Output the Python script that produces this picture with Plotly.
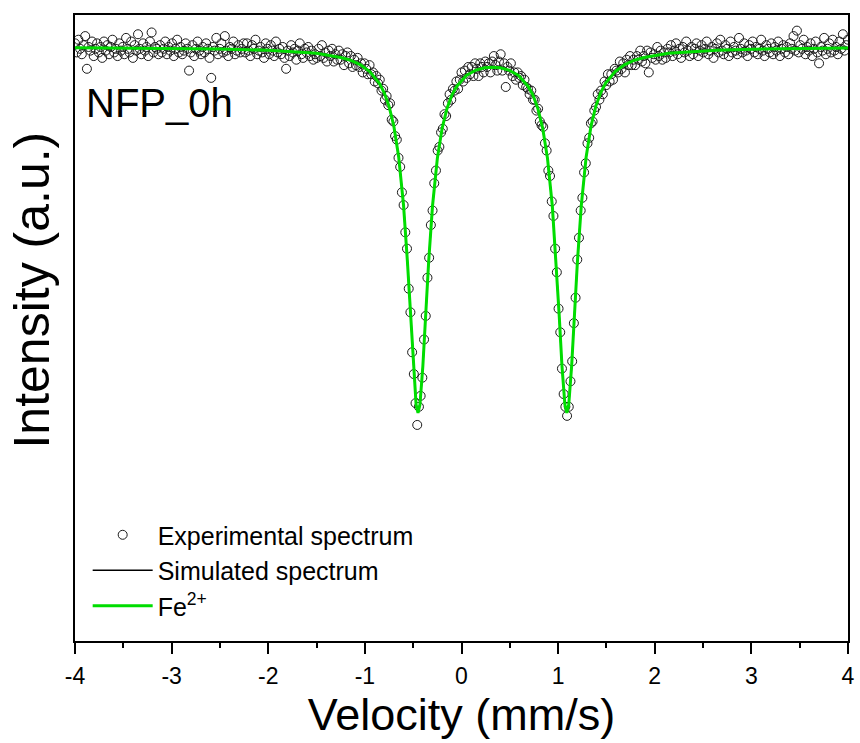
import plotly.graph_objects as go

# ---------------- data ----------------
# Experimental channels: velocity calibration (mm/s)
vel_start = -4.0
vel_step = 0.017621

# Experimental relative transmission (%), channel by channel
exp_intensity = [
    # -4.00 .. -3.14
    100.2, 99.7, 100.4, 99.9, 99.6, 100.1, 100.6, 98.8, 100.0, 99.8,
    100.3, 99.5, 99.9, 100.2, 99.7, 100.0, 99.4, 100.3, 99.8, 100.1,
    99.6, 100.0, 100.4, 99.7, 99.9, 99.5, 100.2, 99.8, 100.0, 99.6,
    100.5, 99.9, 99.7, 100.3, 99.4, 100.1, 99.8, 100.7, 99.9, 99.6,
    100.2, 99.8, 100.0, 99.5, 100.3, 100.8, 99.7, 100.0, 99.9, 99.6,
    # -3.12 .. -2.26
    100.1, 99.7, 99.9, 100.3, 99.6, 100.0, 99.8, 100.2, 99.5, 99.9,
    100.4, 99.7, 100.0, 99.6, 99.8, 100.2, 99.9, 98.7, 99.7, 100.1,
    99.5, 99.9, 100.3, 99.8, 99.6, 100.0, 99.7, 100.2, 99.9, 99.4,
    98.3, 100.0, 99.8, 100.5, 99.6, 99.9, 100.2, 99.7, 100.6, 99.8,
    99.5, 100.0, 99.9, 100.3, 99.6, 99.8, 100.1, 99.7, 99.9, 100.2,
    # -2.24 .. -1.52
    99.7, 100.2, 99.8, 99.5, 100.1, 99.9, 100.4, 99.6, 99.8, 100.0,
    99.7, 99.4, 100.2, 99.9, 99.6, 100.1, 99.8, 99.5, 100.3, 99.7,
    99.9, 99.6, 100.0, 99.4, 98.8, 99.8, 99.5, 100.1, 99.7, 99.9,
    99.3, 99.8, 100.2, 99.6, 99.4, 99.9, 99.7, 100.0, 99.5, 99.8,
    99.3, 99.6,
    # -1.50 .. -0.49 (left slope)
    99.4, 99.9, 99.5, 100.1, 99.4, 99.7, 99.2, 99.8, 99.5, 99.9,
    99.2, 99.6, 99.3, 99.8, 99.3, 99.6, 99.0, 99.5, 99.7, 99.1,
    99.5, 98.9, 99.3, 99.0, 99.4, 98.9, 99.1, 98.6, 99.1, 98.8,
    98.5, 99.0, 98.5, 98.6, 98.1, 98.4, 98.0, 98.2, 97.6, 97.7,
    97.1, 97.3, 96.8, 96.9, 96.0, 95.9, 95.1, 94.9, 93.9, 93.4,
    92.0, 91.3, 89.8, 88.9, 86.7, 85.4, 83.2, 82.0,
    # -0.48 .. 0.32 (left line and hump)
    80.4, 79.2, 80.2, 80.8, 81.8, 83.9, 85.2, 87.3, 88.4, 90.2,
    91.0, 92.5, 93.2, 94.3, 94.5, 95.3, 95.5, 96.3, 96.2, 96.9,
    97.4, 97.1, 97.7, 97.6, 98.1, 97.7, 98.2, 98.6, 98.1, 98.7,
    98.3, 98.9, 98.5, 98.9, 98.4, 99.1, 98.8, 98.4, 99.1, 98.9,
    98.6, 99.2, 98.9, 99.1, 98.6, 99.2,
    # 0.33 .. 0.81 (hump)
    99.5, 99.0, 98.7, 99.2, 99.6, 98.7, 99.1, 97.8, 98.9, 98.7,
    99.1, 98.4, 98.6, 98.2, 98.6, 98.3, 98.4, 97.9, 98.2, 97.8,
    97.7, 97.4, 97.6, 97.1, 97.1, 96.5, 96.6, 95.9,
    # 0.83 .. 1.32 (right line)
    95.7, 95.6, 94.7, 94.3, 93.2, 92.9, 91.5, 90.7, 88.9, 87.6,
    85.6, 84.3, 82.3, 80.9, 80.2, 79.7, 80.2, 81.6, 82.7, 84.8,
    86.2, 88.3, 89.5, 91.0, 91.7, 93.1, 93.6, 94.7, 95.0,
    # 1.34 .. 2.13 (right slope)
    95.8, 95.9, 96.5, 96.7, 97.4, 97.1, 97.6, 97.4, 98.1, 97.9,
    98.5, 98.1, 98.5, 98.2, 98.8, 98.7, 98.6, 99.2, 98.8, 99.1,
    98.6, 99.3, 99.0, 99.5, 99.0, 99.3, 99.0, 99.5, 99.3, 99.8,
    99.2, 99.5, 99.1, 99.8, 98.6, 99.7, 99.4, 99.6, 99.3, 100.0,
    99.5, 99.8, 99.3, 99.7, 99.4, 99.9,
    # 2.15 .. 3.01
    99.7, 100.1, 99.5, 99.8, 100.2, 99.6, 99.9, 99.4, 100.0, 99.7,
    100.3, 99.8, 99.5, 100.0, 99.6, 99.9, 100.2, 99.5, 99.8, 100.1,
    99.7, 99.9, 100.3, 99.6, 99.8, 100.0, 99.4, 99.9, 100.2, 99.7,
    100.4, 99.8, 99.6, 100.1, 99.9, 99.5, 100.3, 99.7, 100.0, 99.8,
    99.6, 100.5, 99.9, 99.7, 100.2, 99.8, 99.5, 100.1, 99.9, 100.3,
    # 3.03 .. 4.00
    99.7, 100.0, 99.6, 99.9, 100.4, 99.8, 99.5, 100.1, 99.9, 99.7,
    100.2, 99.6, 100.0, 99.8, 100.3, 99.5, 99.9, 100.1, 99.7, 100.0,
    99.6, 100.2, 99.9, 100.6, 99.8, 100.9, 99.7, 100.1, 99.9, 100.4,
    99.6, 100.0, 99.8, 100.2, 99.5, 99.9, 100.3, 99.7, 99.1, 100.0,
    99.8, 100.5, 99.6, 99.9, 100.2, 99.7, 100.4, 99.8, 100.0, 99.6,
    100.3, 99.9, 100.7, 99.8, 100.1, 100.4,
]

# Fitted Fe2+ doublet (%)
fe2_velocity = [-4.0, -3.5, -3.0, -2.5, -2.0, -1.5, -1.25, -1.15, -1.05, -0.95,
                -0.85, -0.80, -0.75, -0.70, -0.65, -0.60, -0.56, -0.53, -0.50, -0.47,
                -0.45, -0.43, -0.40, -0.37, -0.34, -0.30, -0.25, -0.20, -0.15, -0.10,
                -0.05, 0.05, 0.15, 0.24, 0.32, 0.40, 0.49, 0.59, 0.69, 0.74,
                0.79, 0.84, 0.89, 0.94, 0.98, 1.01, 1.04, 1.07, 1.09, 1.11,
                1.14, 1.17, 1.20, 1.24, 1.29, 1.34, 1.39, 1.44, 1.49, 1.59,
                1.69, 1.79, 1.89, 2.14, 2.64, 3.14, 3.64, 4.0]
fe2_intensity = [99.96, 99.95, 99.93, 99.89, 99.82, 99.65, 99.42, 99.27, 99.03, 98.65,
                 98.00, 97.48, 96.74, 95.64, 93.95, 91.30, 88.22, 85.37, 82.45, 80.32,
                 79.86, 80.32, 82.43, 85.34, 88.18, 91.25, 93.87, 95.54, 96.62, 97.35,
                 97.83, 98.43, 98.73, 98.86, 98.89, 98.86, 98.73, 98.43, 97.83, 97.35,
                 96.62, 95.54, 93.87, 91.25, 88.18, 85.34, 82.43, 80.32, 79.86, 80.32,
                 82.45, 85.37, 88.22, 91.30, 93.95, 95.64, 96.74, 97.48, 98.00, 98.65,
                 99.03, 99.27, 99.42, 99.65, 99.82, 99.89, 99.93, 99.94]

# Simulated spectrum (single component, identical to the Fe2+ sub-spectrum)
sim_velocity = list(fe2_velocity)
sim_intensity = list(fe2_intensity)

x_ticks = [-4, -3, -2, -1, 0, 1, 2, 3, 4]
x_tick_labels = ["-4", "-3", "-2", "-1", "0", "1", "2", "3", "4"]

exp_velocity = [vel_start + i * vel_step for i in range(len(exp_intensity))]

FONT = "Liberation Sans, Arial, sans-serif"

fig = go.Figure()
fig.add_trace(go.Scatter(
    x=exp_velocity, y=exp_intensity, mode="markers",
    name="Experimental spectrum",
    marker=dict(symbol="circle-open", size=9, color="#1a1a1a", line=dict(width=1)),
))
fig.add_trace(go.Scatter(
    x=sim_velocity, y=sim_intensity, mode="lines",
    name="Simulated spectrum", line=dict(color="black", width=1.5),
))
fig.add_trace(go.Scatter(
    x=fe2_velocity, y=fe2_intensity, mode="lines",
    name="Fe<sup>2+</sup>", line=dict(color="#00dd00", width=3),
))

fig.add_annotation(
    text="NFP_0h", xref="paper", yref="paper", x=0.012, y=0.859,
    xanchor="left", yanchor="middle", showarrow=False,
    font=dict(family=FONT, size=40, color="black"),
)
# y-axis title placed as in the reference (slightly above the plot centre)
fig.add_annotation(
    text="Intensity (a.u.)", xref="paper", yref="paper", x=-0.056, y=0.561,
    xanchor="center", yanchor="middle", textangle=-90, showarrow=False,
    font=dict(family=FONT, size=50, color="black"),
)

fig.update_layout(
    width=860, height=743,
    margin=dict(l=75, r=12, t=15, b=102, autoexpand=False),
    paper_bgcolor="white", plot_bgcolor="white",
    font=dict(family=FONT, color="black"),
    showlegend=True,
    legend=dict(
        x=0.0164, y=0.206, xanchor="left", yanchor="top",
        bgcolor="rgba(0,0,0,0)", borderwidth=0,
        font=dict(family=FONT, size=25, color="black"),
        itemwidth=60, tracegroupgap=0,
    ),
    xaxis=dict(
        range=[-4, 4], tickvals=x_ticks, ticktext=x_tick_labels,
        showline=True, linecolor="black", linewidth=1.5, mirror=True,
        ticks="outside", ticklen=11, tickwidth=1.5, tickcolor="black",
        ticklabelstandoff=3, automargin=False,
        minor=dict(dtick=0.5, tick0=0, ticks="outside", ticklen=5, tickwidth=1.5, tickcolor="black"),
        showgrid=False, zeroline=False,
        tickfont=dict(family=FONT, size=23, color="black"),
        title=dict(text="Velocity (mm/s)", font=dict(family=FONT, size=45, color="black"), standoff=2),
    ),
    yaxis=dict(
        range=[67.31, 101.76], automargin=False,
        showline=True, linecolor="black", linewidth=1.5, mirror=True,
        ticks="", showticklabels=False, showgrid=False, zeroline=False,
    ),
)

fig.write_html("out.html")
